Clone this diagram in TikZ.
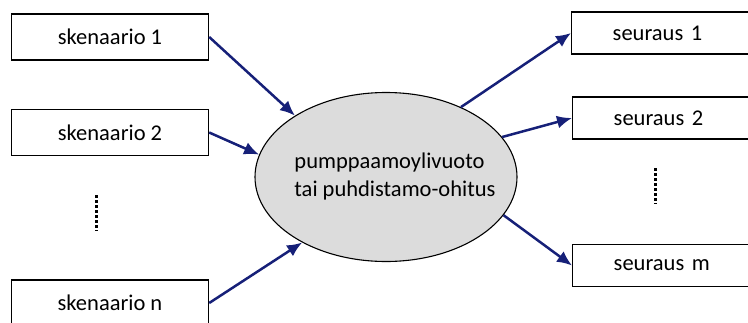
\documentclass[tikz,border=0pt]{standalone}
\usepackage{fontspec}
\setmainfont{Carlito}
\usetikzlibrary{shapes.geometric,arrows.meta}
\definecolor{arrowblue}{RGB}{22,32,120}
\definecolor{eventgray}{RGB}{220,220,220}
\tikzset{
  cause/.style={draw, line width=1.4pt, minimum width=197pt, minimum height=46pt,
    inner sep=0pt, font=\fontsize{22.5}{28}\selectfont},
  effect/.style={draw, line width=1.4pt, anchor=west, minimum height=42pt,
    text width=160pt, align=left, inner xsep=41pt, inner ysep=0pt,
    font=\fontsize{22.5}{28}\selectfont},
  event/.style={draw, ellipse, fill=eventgray, line width=1.1pt,
    minimum width=262pt, minimum height=169pt, inner sep=0pt},
  eventtext/.style={align=left, inner sep=0pt, font=\fontsize{22.5}{28}\selectfont},
  link/.style={draw=arrowblue, line width=2.5pt,
    -{Latex[length=15pt,width=13pt]}},
  vdots/.style={line width=3pt, dash pattern=on 2.8pt off 2.2pt},
}

\begin{document}
\begin{tikzpicture}[x=1pt,y=-1pt]
  \useasboundingbox (0,0) rectangle (748,322);
  \clip (0,0) rectangle (748,322);

  % Scenarios on the left
  \node[cause] (s1) at (110,37) {skenaario 1};
  \node[cause] (s2) at (110,132.5) {skenaario 2};
  \node[cause] (sn) at (110,303) {skenaario n};
  \draw[vdots] (96.5,195) -- (96.5,231);

  % Central event
  \node[event] (ev) at (386,177) {};
  \node[eventtext] (evlabel) at (395,176) {pumppaamoylivuoto\\tai puhdistamo-ohitus};

  % Consequences on the right
  \node[effect] (c1) at (571,33) {seuraus 1};
  \node[effect] (c2) at (572,118) {seuraus 2};
  \node[effect] (cm) at (572,265.5) {seuraus m};
  \draw[vdots] (655,168) -- (655,204);

  % Arrows
  \draw[link] (s1.east) -- (ev.146);
  \draw[link] (s2.east) -- (ev.170);
  \draw[link] (sn.east) -- (ev.218);
  \draw[link] (ev.43) -- (c1.west);
  \draw[link] (ev.19) -- (c2.west);
  \draw[link] (ev.342) -- (cm.west);
\end{tikzpicture}
\end{document}
